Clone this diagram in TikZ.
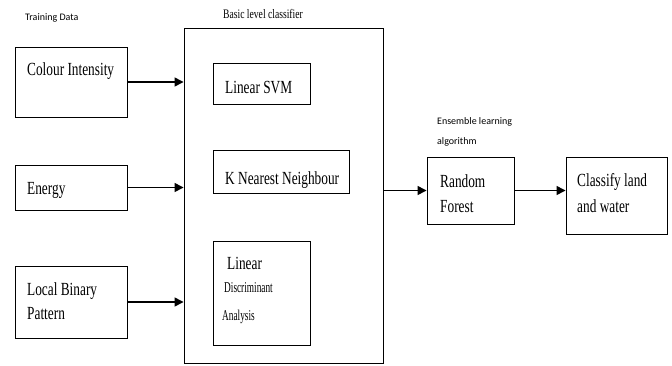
\documentclass[tikz,border=0pt]{standalone}
\usepackage{fontspec}
\setmainfont{Liberation Serif}
\newfontfamily\boxfont[FakeStretch=0.72]{Liberation Serif}
\newfontfamily\thinfont[FakeStretch=0.62]{Liberation Serif}
\newfontfamily\headfont[FakeStretch=0.74]{Liberation Serif}
\newfontfamily\notefont{Carlito}
\usetikzlibrary{arrows.meta}

\tikzset{
  box/.style={draw, line width=0.9pt, inner sep=0pt},
  txt/.style={anchor=base west, inner sep=0pt, font=\boxfont\fontsize{18.5}{20}\selectfont},
  small/.style={anchor=base west, inner sep=0pt, font=\thinfont\fontsize{15}{17}\selectfont},
  head/.style={anchor=base west, inner sep=0pt, font=\headfont\fontsize{13}{15}\selectfont},
  note/.style={anchor=west, inner sep=0pt, font=\notefont\fontsize{10}{12}\selectfont},
  flow/.style={line width=1.4pt, -{Triangle[length=9pt,width=9pt]}}
}

\begin{document}
\begin{tikzpicture}[x=1pt, y=-1pt]

\useasboundingbox (0,0) rectangle (672,365);

% training data
\node[box, minimum width=112pt, minimum height=70pt] (ci) at (71,82) {};
\node[box, minimum width=112pt, minimum height=45pt] (en) at (71,187.5) {};
\node[box, minimum width=112pt, minimum height=72pt] (lbp) at (71,302) {};
\node[note] (td) at (25,18) {Training Data};
\node[txt] (ci-t) at (27,75) {Colour Intensity};
\node[txt] (en-t) at (27,194) {Energy};
\node[txt] (lbp-t1) at (27,295) {Local Binary};
\node[txt] (lbp-t2) at (27,319) {Pattern};

% basic level classifier
\node[box, minimum width=199pt, minimum height=335pt] (base) at (283.5,195.5) {};
\node[head] (base-t) at (223,18) {Basic level classifier};
\node[box, minimum width=97pt, minimum height=41pt] (svm) at (261.5,83.5) {};
\node[txt] (svm-t) at (225,93) {Linear SVM};
\node[box, minimum width=136pt, minimum height=43pt] (knn) at (281,171.5) {};
\node[txt] (knn-t) at (225,184) {K Nearest Neighbour};
\node[box, minimum width=97pt, minimum height=104pt] (lda) at (261.5,293) {};
\node[txt] (lda-t1) at (227,269) {Linear};
\node[small] (lda-t2) at (224,292) {Discriminant};
\node[small] (lda-t3) at (222,320) {Analysis};

% ensemble
\node[box, minimum width=87pt, minimum height=67pt] (rf) at (470.5,190.5) {};
\node[note] (ens1) at (437,122) {Ensemble learning};
\node[note] (ens2) at (437,142) {algorithm};
\node[txt] (rf-t1) at (440,187) {Random};
\node[txt] (rf-t2) at (440,212) {Forest};
\node[box, minimum width=101pt, minimum height=77pt] (cl) at (616.5,195.5) {};
\node[txt] (cl-t1) at (577,186) {Classify land};
\node[txt] (cl-t2) at (577,212) {and water};

\draw[flow] (ci.east) -- (ci.east -| base.west);
\draw[flow] (en.east) -- (en.east -| base.west);
\draw[flow] (lbp.east) -- (lbp.east -| base.west);
\draw[flow] (base.east |- rf.west) -- (rf.west);
\draw[flow] (rf.east) -- (rf.east -| cl.west);

\end{tikzpicture}
\end{document}
